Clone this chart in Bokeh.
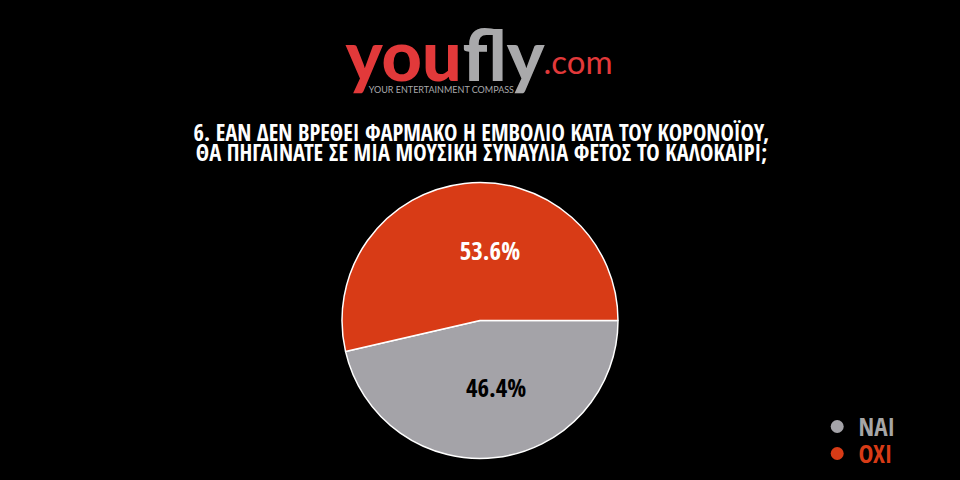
import math
from bokeh.plotting import figure, ColumnDataSource
from bokeh.models import Range1d
from bokeh.core.properties import value
from bokeh.embed import file_html
from bokeh.resources import INLINE

# ---- data ----
categories = ["NAI", "OXI"]
percent = [46.4, 53.6]
title_lines = [
    "6. ΕΑΝ ΔΕΝ ΒΡΕΘΕΙ ΦΑΡΜΑΚΟ Η ΕΜΒΟΛΙΟ ΚΑΤΑ ΤΟΥ ΚΟΡΟΝΟΪΟΥ,",
    "ΘΑ ΠΗΓΑΙΝΑΤΕ ΣΕ ΜΙΑ ΜΟΥΣΙΚΗ ΣΥΝΑΥΛΙΑ ΦΕΤΟΣ ΤΟ ΚΑΛΟΚΑΙΡΙ;",
]

# ---- style ----
W, H = 960, 480
def X(x):
    return x
def Y(y):
    return H - y

slice_colors = ["#a4a3a8", "#d83b16"]
label_colors = ["#000000", "#ffffff"]
legend_text_colors = ["#a6a6a6", "#d83b16"]
RED_LOGO = "#e2393a"
GRAY_LOGO = "#a9a9ab"
COND = value("Open Sans Condensed")
CX, CY, R = 479.5, 320, 138

p = figure(width=W, height=H, x_range=Range1d(0, W), y_range=Range1d(0, H),
           output_backend="svg", toolbar_location=None, min_border=0,
           x_axis_type=None, y_axis_type=None,
           background_fill_color="black", border_fill_color="black",
           outline_line_color=None)
p.grid.visible = False

# ---- pie (clockwise from east) ----
total = sum(percent)
starts, ends = [], []
cum = 0.0
for v in percent:
    ends.append(-2 * math.pi * cum / total)
    cum += v
    starts.append(-2 * math.pi * cum / total)
src = ColumnDataSource(dict(cat=categories, val=percent, start=starts, end=ends,
                            color=slice_colors))
p.wedge(x=X(CX), y=Y(CY), radius=R, start_angle="start", end_angle="end",
        fill_color="color", line_color="white", line_width=1.5, source=src)

# slice labels
lx, ly, lt = [], [], []
for s, e, v in zip(starts, ends, percent):
    m = (s + e) / 2
    lx.append(X(CX) + 0.2 * R * math.cos(m) + 13)
    ly.append(Y(CY) + 0.5 * R * math.sin(m) + 2)
    lt.append(f"{v:.1f}%")
p.text(x=lx, y=ly, text=lt, text_color=label_colors, text_font=COND,
       text_font_style="bold", text_font_size="25px", text_align="center",
       text_baseline="alphabetic")

# ---- logo ----
p.text(x=[X(345)], y=[Y(53)], text=["you"], text_color=RED_LOGO,
       text_font=value("Lato Black"), text_font_size="70px",
       text_align="left", text_baseline="alphabetic")
p.text(x=[X(462)], y=[Y(53)], text=["fly"], text_color=GRAY_LOGO,
       text_font=value("Lato Black"), text_font_size="71px",
       text_align="left", text_baseline="alphabetic")
p.text(x=[X(543)], y=[Y(60)], text=[".com"], text_color=RED_LOGO,
       text_font=value("Lato"), text_font_size="33px",
       text_align="left", text_baseline="alphabetic")
p.text(x=[X(441)], y=[Y(89)], text=["YOUR ENTERTAINMENT COMPASS"],
       text_color=GRAY_LOGO, text_font=value("Lato"), text_font_size="9px",
       text_align="center", text_baseline="alphabetic")

# ---- title ----
p.text(x=[X(481), X(481)], y=[Y(132), Y(152)], text=title_lines,
       text_color="white", text_font=COND, text_font_style="bold",
       text_font_size="22.5px", text_align="center", text_baseline="alphabetic")

# ---- legend ----
leg_y = [426, 453]
p.scatter(x=[X(836.7)] * 2, y=[Y(v) for v in leg_y], size=13,
          fill_color=slice_colors, line_color=None)
p.text(x=[X(858)] * 2, y=[Y(v - 1) for v in leg_y], text=categories,
       text_color=legend_text_colors, text_font=COND, text_font_style="bold",
       text_font_size="25px", text_align="left", text_baseline="alphabetic")

html = file_html(p, INLINE)
html = html.replace("<head>", "<head><style>html,body{background:#000;}</style>", 1)
open("out.html", "w").write(html)
